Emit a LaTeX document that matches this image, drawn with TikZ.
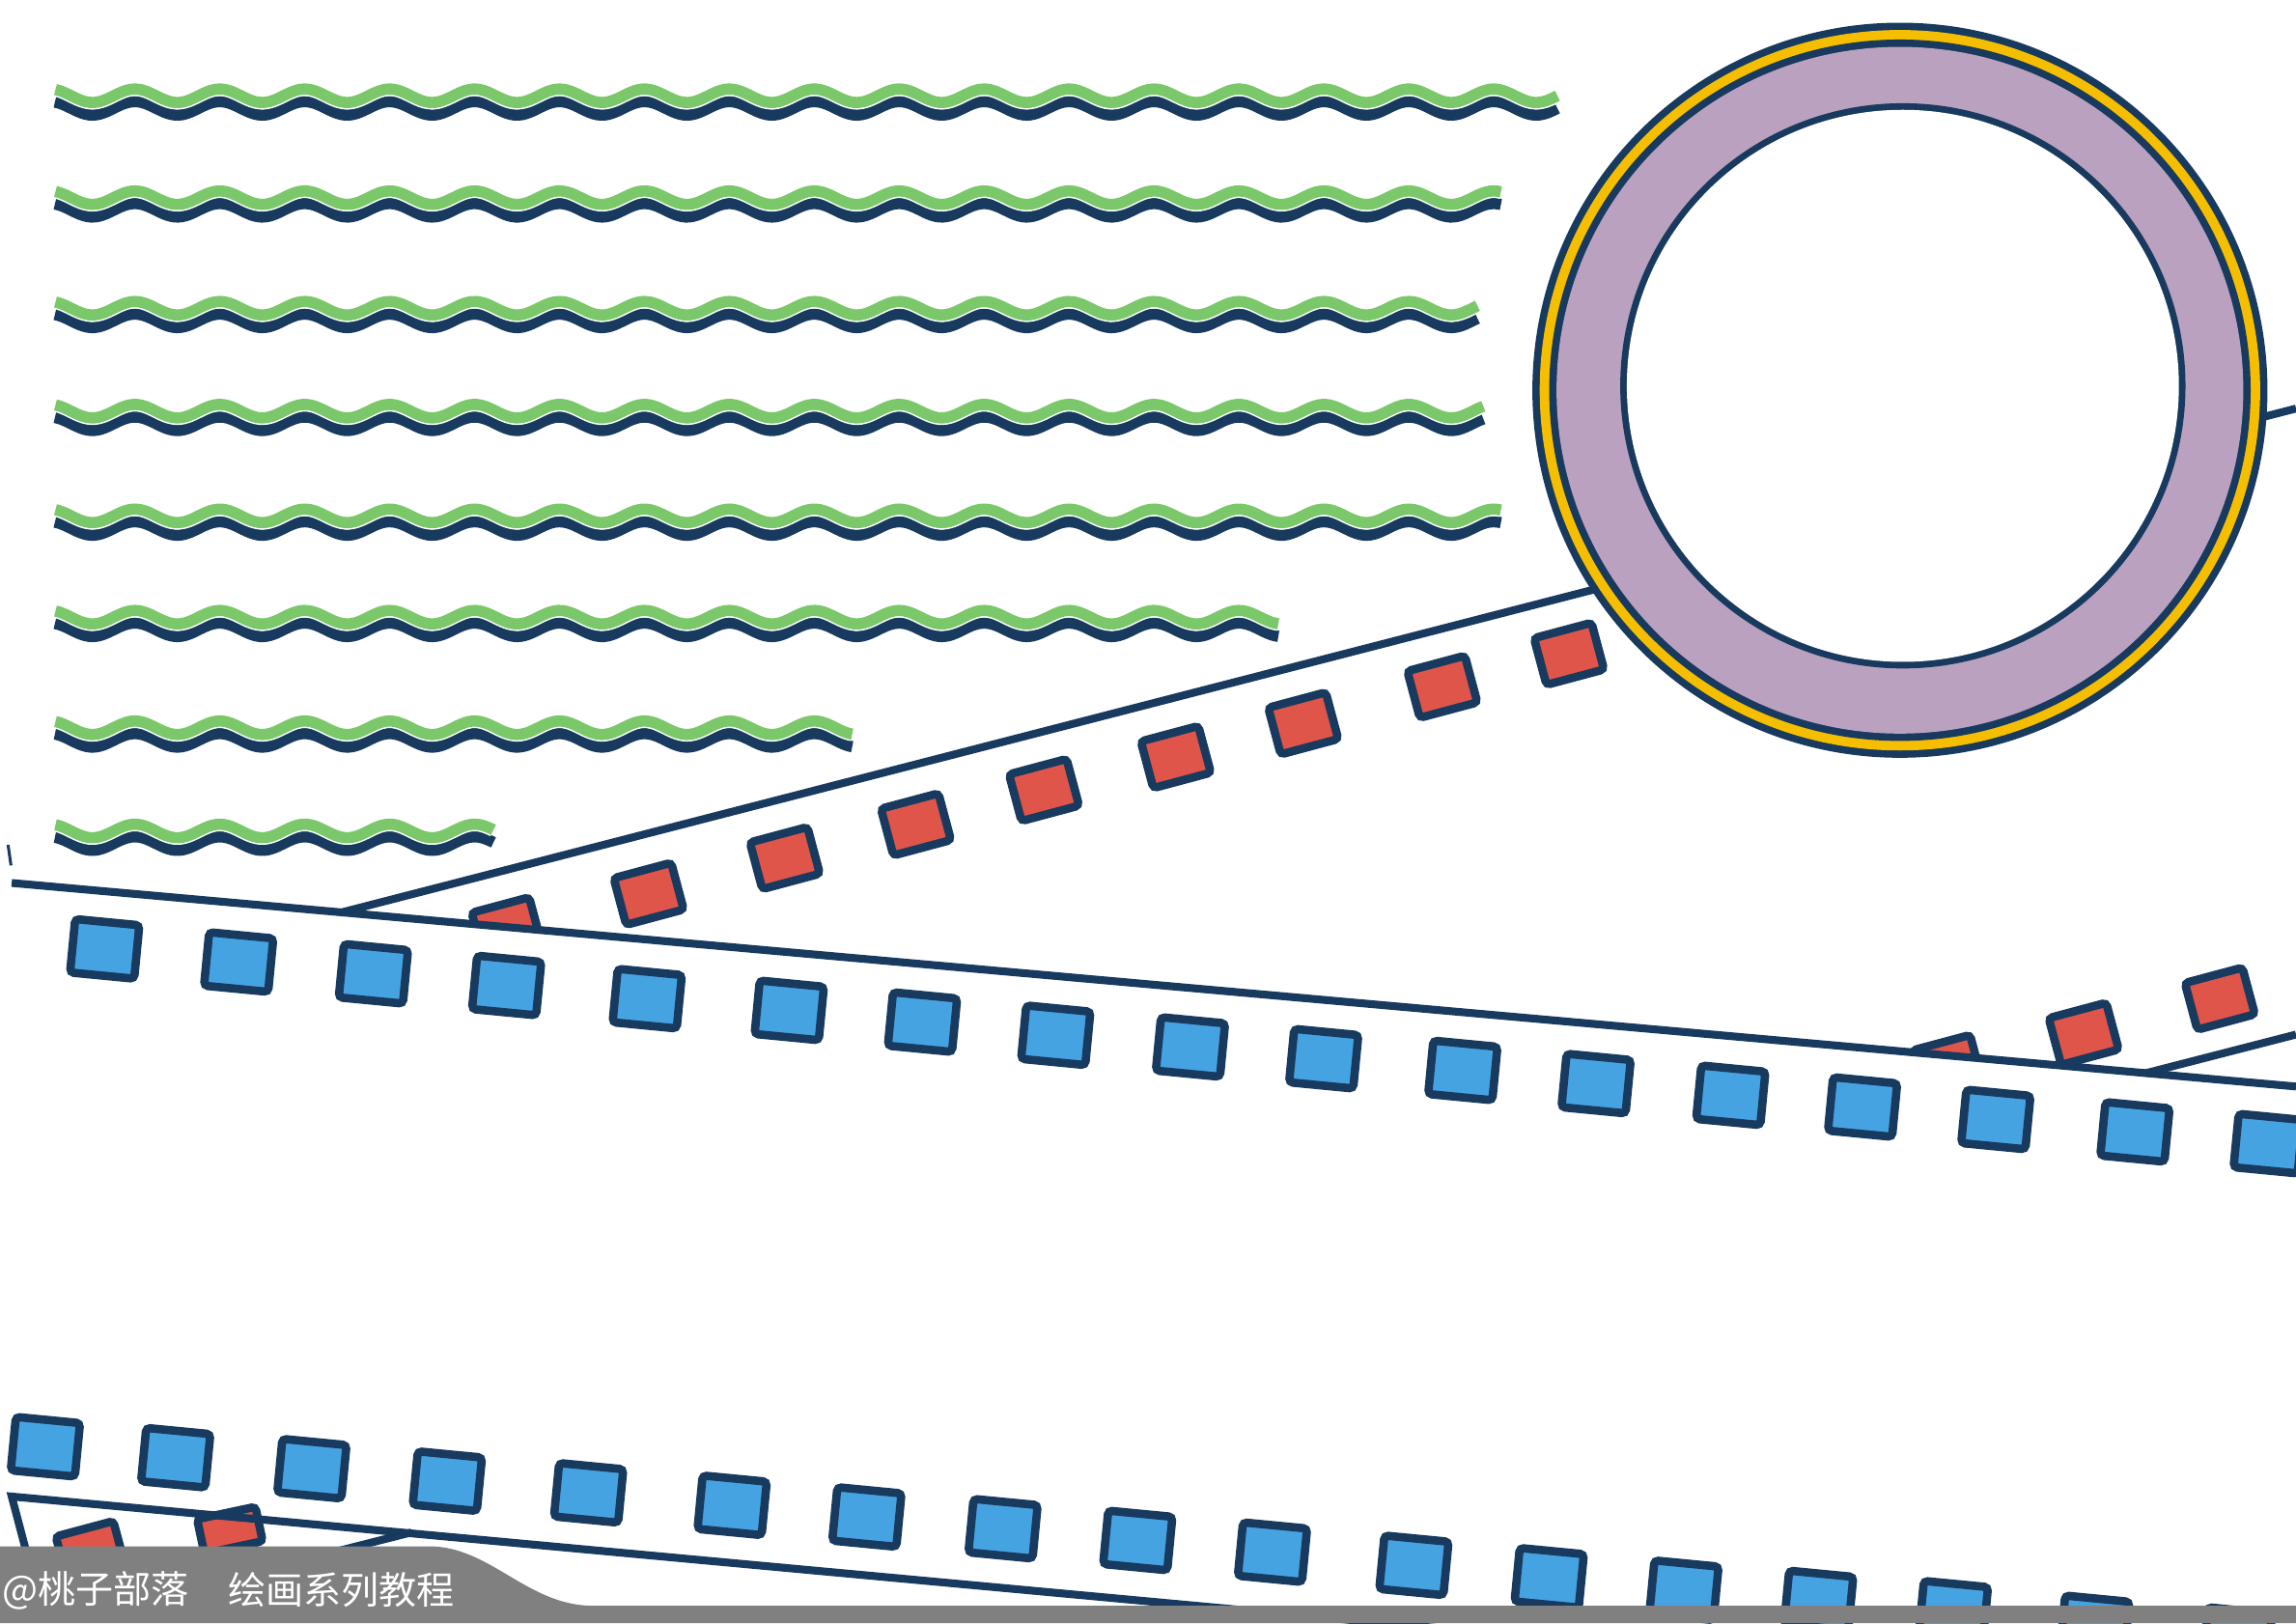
\documentclass[tikz,border=0pt]{standalone}
\usepackage{fontspec}
\newfontfamily\cjk{Noto Sans CJK SC}
\definecolor{navy}{RGB}{24,58,94}
\definecolor{leafgreen}{RGB}{123,200,106}
\definecolor{skyblue}{RGB}{70,163,226}
\definecolor{brickred}{RGB}{224,85,74}
\definecolor{lilac}{RGB}{185,161,191}
\definecolor{ringgold}{RGB}{246,190,0}
\definecolor{bandgray}{RGB}{128,128,128}
\tikzset{
belt/.style={draw=navy, line width=0.8mm}, % the straight belt lines
wavenavy/.style={draw=navy, line width=1.15mm}, % lower line of each wave
wavegreen/.style={draw=leafgreen, line width=1.15mm, preaction={draw=white, line width=1.45mm}}, % upper line of each wave
bluesq/.style={draw=navy, fill=skyblue, line width=0.85mm, inner sep=0, minimum width=6.6mm, minimum height=5.5mm, rotate=-5.5, rounded corners=0.4mm},
redsq/.style={draw=navy, fill=brickred, line width=0.85mm, inner sep=0, minimum width=6.1mm, minimum height=4.95mm, rotate=15, rounded corners=0.4mm},
caption/.style={text=white, font=\cjk\fontsize{11pt}{13pt}\selectfont, inner sep=0, anchor=west},
}
\begin{document}
\begin{tikzpicture}[x=0.15mm, y=-0.15mm]
\useasboundingbox (0,0) rectangle (1568,1108.5);
\fill[white] (0,0) rectangle (1568,1108.5);
% waves
\foreach \yy/\xe in {65.4/1063.6, 135/1025, 210.5/1009, 280.8/1013, 352.3/1025, 421.5/873, 497/582, 567.5/337} {
  \draw[wavenavy] plot[domain=37.5:\xe, samples=400] (\x, {\yy + 8.6 - 4.6*cos(6.2069*(\x-34.1))});
  \draw[wavegreen] plot[domain=37.9:\xe, samples=400] (\x, {\yy - 4.6*cos(6.2069*(\x-34.1))});
}
% belt coordinates
\coordinate (beltA-w) at (8,603);
\coordinate (beltA-e) at (1568,742);
\coordinate (foldA) at (234,622.9);
\coordinate (diagA-e) at (1568,279);
\coordinate (foldB) at (1465,733);
\coordinate (diagB-e) at (1568,706.5);
\coordinate (beltB-w) at (8,1022);
\coordinate (beltB-e) at (1000,1113.5);
\coordinate (edgeB-s) at (22,1075);
\coordinate (foldC) at (281,1046.5);
\coordinate (diagC-w) at (200,1067);
\coordinate (ring) at (1297.5,266.5);
\coordinate (hole) at (1299.5,263.5);
% red squares above the upper belt
\begin{scope}
  \clip (0,0) -- (beltA-w) -- (beltA-e) -- (1568,0) -- cycle;
  \foreach \px/\py [count=\i] in {346/634, 443/610.4, 536/586, 625.5/563, 713/539.5, 803/517, 890/494, 985/469, 1071.5/446.5, 1330/728, 1423/706, 1516/682}
    \node[redsq] (redA\i) at (\px,\py) {};
\end{scope}
\node[redsq] (redB1) at (62,1060) {};
\node[redsq, minimum height=3.6mm, rotate=-3] (redB2) at (157,1045) {};
% lines
\draw[navy, line width=0.3mm] (5.5,577) -- (7.5,591);
\draw[belt] (beltA-w) -- (beltA-e);
\draw[belt] (foldA) -- (diagA-e);
\draw[belt] (foldB) -- (diagB-e);
\draw[belt] (edgeB-s) -- (beltB-w) -- (beltB-e);
\draw[belt] (diagC-w) -- (foldC);
% blue squares
\foreach \px/\py [count=\i] in {71.5/648, 163/657, 255/665, 346/673, 442/682, 539/690, 630/698, 721/707, 813/715, 904/723, 999/731, 1090/740, 1182/748, 1272/756, 1363/764.5, 1458/773, 1549/781}
  \node[bluesq] (blueA\i) at (\px,\py) {};
\foreach \px/\py [count=\i] in {31/988, 120/995.5, 213/1003, 305.5/1011.5, 402/1019.5, 500/1028, 592/1036, 685/1044, 777/1052, 869/1060, 965.6/1069, 1058/1077.5, 1150/1086, 1242/1093, 1334/1100, 1430.5/1110, 1528/1118}
  \node[bluesq] (blueB\i) at (\px,\py) {};
% ring
\fill[navy] (ring) circle (251);
\fill[ringgold] (ring) circle (246);
\fill[navy] (ring) circle (239.5);
\fill[lilac] (ring) circle (234.5);
\fill[navy] (hole) circle (193);
\fill[white] (hole) circle (188.5);
% gray band
\fill[bandgray] (0,1056) -- (293,1056) .. controls (335,1056) and (360,1096.6) .. (405,1096.6) -- (1568,1096.6) -- (1568,1108.5) -- (0,1108.5) -- cycle;
\node[caption] (mark) at (1,1086) {@桃子部落};
\node[caption] (series) at (155.5,1086) {绘画系列教程};
\end{tikzpicture}
\end{document}
